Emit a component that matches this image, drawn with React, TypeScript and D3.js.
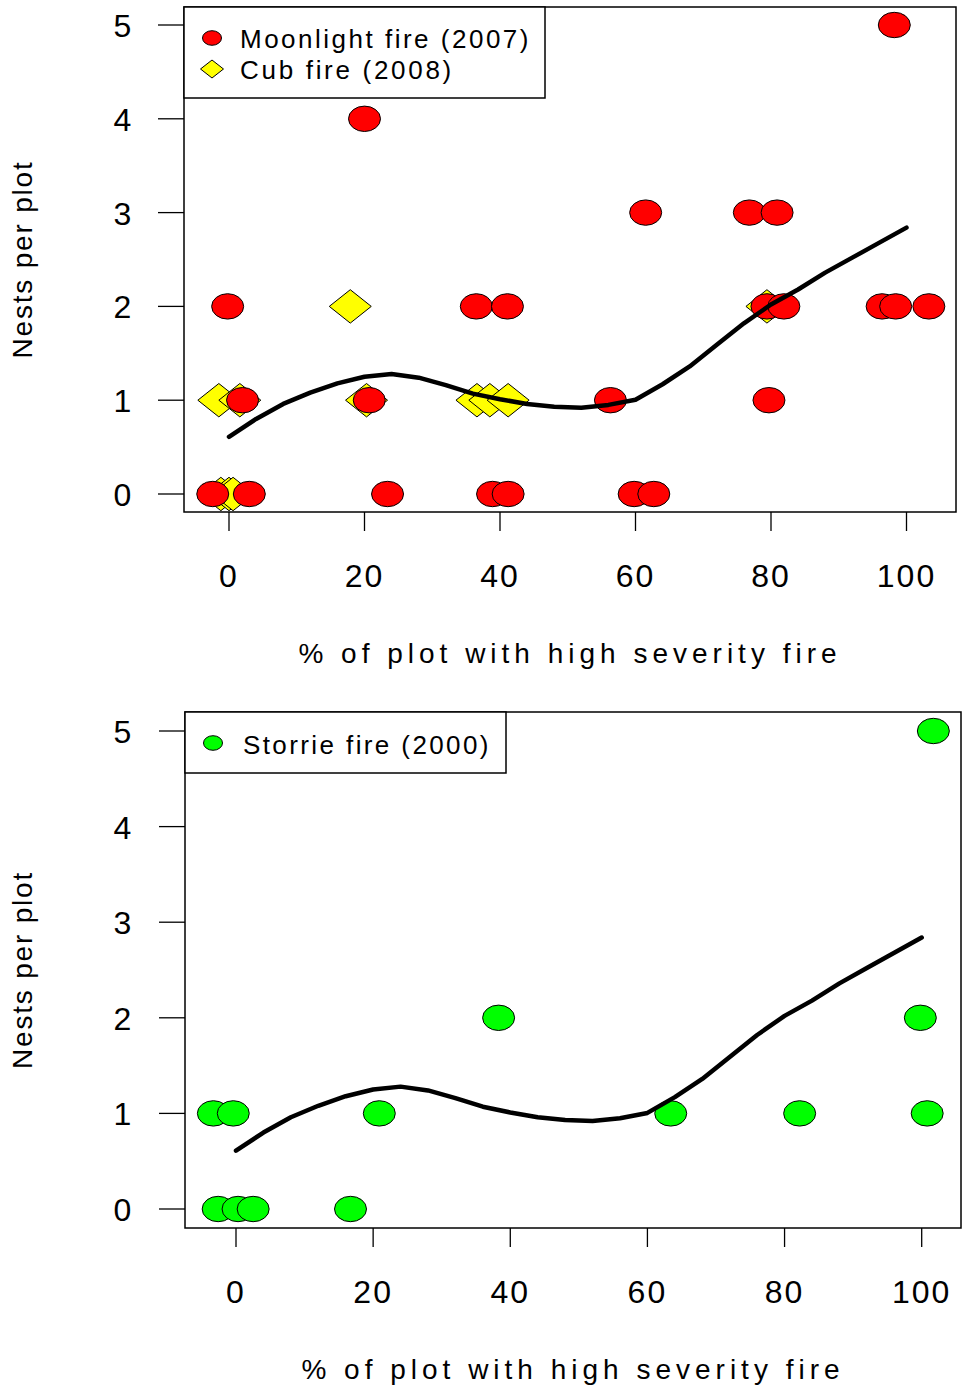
import React from "react";
import * as d3 from "d3";

// ---- data ----
const moonlightX = [98.2, 20.0, 61.5, 76.8, 80.9, -0.2, 36.5, 41.1, 79.4, 81.9, 96.4, 98.4, 103.3, 2.0, 20.7, 56.3, 79.7, -2.4, 3.0, 23.4, 38.9, 41.2, 59.8, 62.7];
const moonlightY = [5, 4, 3, 3, 3, 2, 2, 2, 2, 2, 2, 2, 2, 1, 1, 1, 1, 0, 0, 0, 0, 0, 0, 0];

const cubX = [17.9, 79.4, -1.5, 1.6, 20.3, 36.6, 38.5, 41.2, -1.2, 0.0, 0.6];
const cubY = [2, 2, 1, 1, 1, 1, 1, 1, 0, 0, 0];

const storrieX = [101.7, 38.3, 99.8, -3.3, -0.4, 20.9, 63.4, 82.2, 100.8, -2.6, 0.3, 2.5, 16.7];
const storrieY = [5, 2, 2, 1, 1, 1, 1, 1, 1, 0, 0, 0, 0];

const curveX = [0, 4, 8, 12, 16, 20, 24, 28, 32, 36, 40, 44, 48, 52, 56, 60, 64, 68, 72, 76, 80, 84, 88, 92, 96, 100];
const curveY = [0.61, 0.80, 0.96, 1.08, 1.18, 1.25, 1.28, 1.24, 1.16, 1.07, 1.01, 0.96, 0.93, 0.92, 0.95, 1.005, 1.17, 1.36, 1.59, 1.82, 2.02, 2.18, 2.36, 2.52, 2.68, 2.84];

const xTicks = [0, 20, 40, 60, 80, 100];
const yTicks = [0, 1, 2, 3, 4, 5];

const xTitle = "% of plot with high severity fire";
const yTitle = "Nests per plot";

const FONT = "'Liberation Sans', Arial, Helvetica, sans-serif";

type Panel = {
  box: [number, number, number, number]; // left, top, right, bottom
  x0: number; x100: number; y0: number; y5: number;
  legendBox: [number, number, number, number];
};

const topPanel: Panel = {
  box: [184, 7, 956, 512],
  x0: 229, x100: 906.5, y0: 494, y5: 25,
  legendBox: [184, 7, 545, 98],
};
const bottomPanel: Panel = {
  box: [185, 712, 961, 1228],
  x0: 236, x100: 921.7, y0: 1209, y5: 731,
  legendBox: [185, 712, 506, 773],
};

const diamond = (cx: number, cy: number, hw: number, hh: number) =>
  `M${cx - hw},${cy}L${cx},${cy - hh}L${cx + hw},${cy}L${cx},${cy + hh}Z`;

function Axes({ p }: { p: Panel }) {
  const x = d3.scaleLinear().domain([0, 100]).range([p.x0, p.x100]);
  const y = d3.scaleLinear().domain([0, 5]).range([p.y0, p.y5]);
  const [l, t, r, b] = p.box;
  return (
    <g>
      <rect x={l} y={t} width={r - l} height={b - t} fill="none" stroke="#000" strokeWidth={1.5} />
      {xTicks.map((v) => (
        <g key={"x" + v}>
          <line x1={x(v)} x2={x(v)} y1={b} y2={b + 19} stroke="#000" strokeWidth={1.3} />
          <text x={x(v)} y={b + 75} textAnchor="middle" fontFamily={FONT} fontSize={32} letterSpacing={2} fill="#000">{v}</text>
        </g>
      ))}
      {yTicks.map((v) => (
        <g key={"y" + v}>
          <line x1={l - 26} x2={l} y1={y(v)} y2={y(v)} stroke="#000" strokeWidth={1.3} />
          <text x={122.5} y={y(v) + 12} textAnchor="middle" fontFamily={FONT} fontSize={32} fill="#000">{v}</text>
        </g>
      ))}
      <text x={(l + r) / 2} y={b + 151} textAnchor="middle" fontFamily={FONT} fontSize={28} letterSpacing={5} fill="#000">{xTitle}</text>
      <text transform={`translate(32,${(t + b) / 2}) rotate(-90)`} textAnchor="middle" fontFamily={FONT} fontSize={28} letterSpacing={1.8} fill="#000">{yTitle}</text>
    </g>
  );
}

function Curve({ p }: { p: Panel }) {
  const x = d3.scaleLinear().domain([0, 100]).range([p.x0, p.x100]);
  const y = d3.scaleLinear().domain([0, 5]).range([p.y0, p.y5]);
  const pts = curveX.map((v, i) => [x(v), y(curveY[i])] as [number, number]);
  const line = d3.line();
  return <path d={line(pts) || ""} fill="none" stroke="#000" strokeWidth={4.5} strokeLinejoin="round" strokeLinecap="round" />;
}

export default function App() {
  const tp = topPanel;
  const bp = bottomPanel;
  const xt = d3.scaleLinear().domain([0, 100]).range([tp.x0, tp.x100]);
  const yt = d3.scaleLinear().domain([0, 5]).range([tp.y0, tp.y5]);
  const xb = d3.scaleLinear().domain([0, 100]).range([bp.x0, bp.x100]);
  const yb = d3.scaleLinear().domain([0, 5]).range([bp.y0, bp.y5]);
  const RX = 16, RY = 12.7;

  return (
    <svg width={962} height={1393} style={{ position: "absolute", left: 0, top: 0, background: "#fff" }}>
      <rect width={962} height={1393} fill="#fff" />
      {/* Top panel */}
      <Axes p={tp} />
      {cubX.map((v, i) => (
        <path key={"c" + i} d={diamond(xt(v), yt(cubY[i]), 21, 16.7)} fill="#FFFF00" stroke="#000" strokeWidth={1} />
      ))}
      {moonlightX.map((v, i) => (
        <ellipse key={"m" + i} cx={xt(v)} cy={yt(moonlightY[i])} rx={RX} ry={RY} fill="#FF0000" stroke="#000" strokeWidth={1} />
      ))}
      <Curve p={tp} />
      <rect x={tp.legendBox[0]} y={tp.legendBox[1]} width={tp.legendBox[2] - tp.legendBox[0]} height={tp.legendBox[3] - tp.legendBox[1]} fill="#fff" stroke="#000" strokeWidth={1.5} />
      <ellipse cx={212} cy={38} rx={9.5} ry={7.3} fill="#FF0000" stroke="#000" strokeWidth={1} />
      <text x={240} y={48} fontFamily={FONT} fontSize={26} letterSpacing={2.5} fill="#000">Moonlight fire (2007)</text>
      <path d={diamond(212, 69, 11.5, 9)} fill="#FFFF00" stroke="#000" strokeWidth={1} />
      <text x={240} y={79} fontFamily={FONT} fontSize={26} letterSpacing={2.7} fill="#000">Cub fire (2008)</text>

      {/* Bottom panel */}
      <Axes p={bp} />
      {storrieX.map((v, i) => (
        <ellipse key={"s" + i} cx={xb(v)} cy={yb(storrieY[i])} rx={RX} ry={RY} fill="#00FF00" stroke="#000" strokeWidth={1} />
      ))}
      <Curve p={bp} />
      <rect x={bp.legendBox[0]} y={bp.legendBox[1]} width={bp.legendBox[2] - bp.legendBox[0]} height={bp.legendBox[3] - bp.legendBox[1]} fill="#fff" stroke="#000" strokeWidth={1.5} />
      <ellipse cx={213} cy={743} rx={9.5} ry={7.3} fill="#00FF00" stroke="#000" strokeWidth={1} />
      <text x={243} y={754} fontFamily={FONT} fontSize={26} letterSpacing={2.4} fill="#000">Storrie fire (2000)</text>
    </svg>
  );
}
